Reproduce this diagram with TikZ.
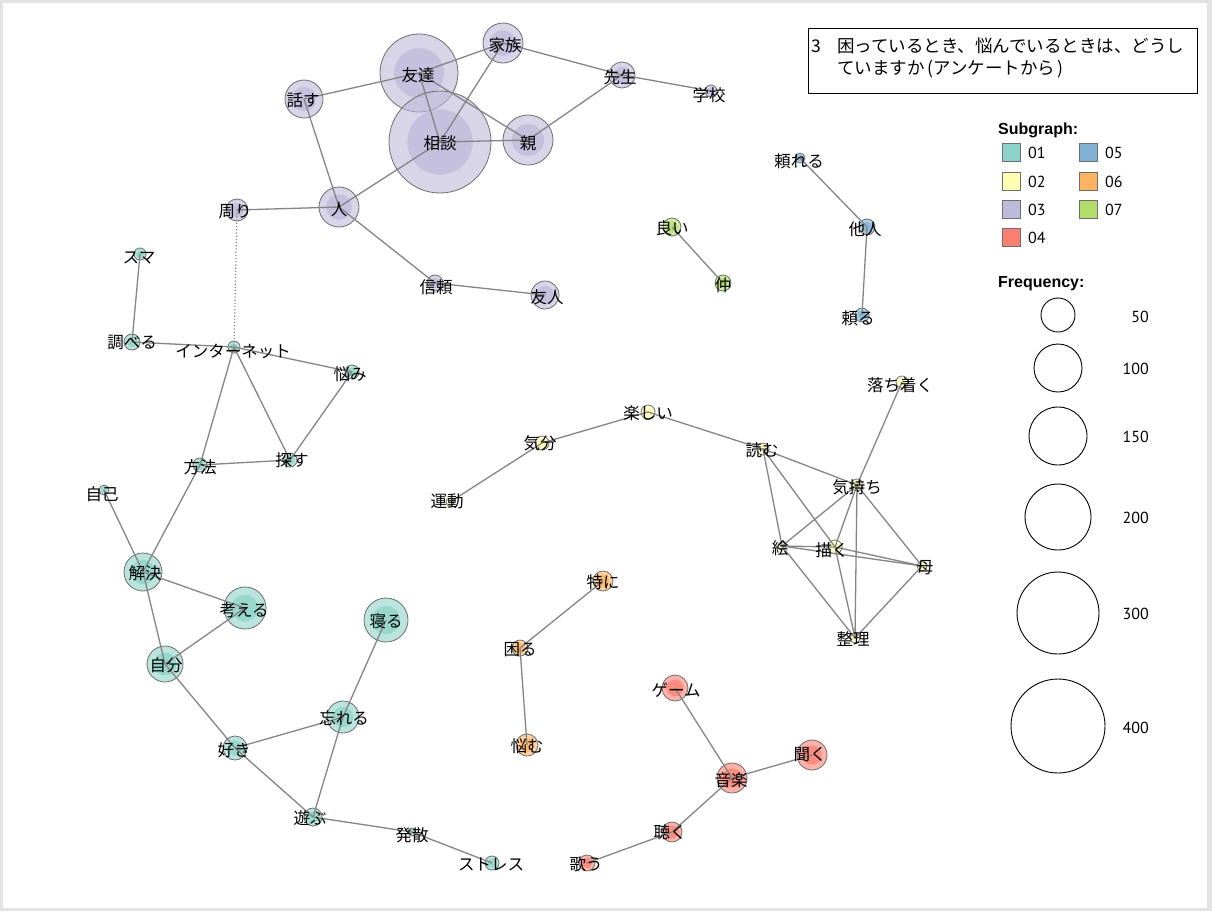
\documentclass[tikz,border=0pt]{standalone}
\usepackage{fontspec}
\setmainfont{Noto Sans CJK JP}
\newfontfamily\legfont{Liberation Sans}
\newfontfamily\numfont{PT Sans}
\definecolor{c01}{HTML}{8DD3C7}
\definecolor{c02}{HTML}{FFFFB3}
\definecolor{c03}{HTML}{BEBADA}
\definecolor{c04}{HTML}{FB8072}
\definecolor{c05}{HTML}{80B1D3}
\definecolor{c06}{HTML}{FDB462}
\definecolor{c07}{HTML}{B3DE69}
\definecolor{edgegray}{HTML}{858585}
\definecolor{ringgray}{HTML}{6E6E6E}
\tikzset{
  wcirc/.style={circle, draw=ringgray, line width=0.8pt, inner sep=0pt},
  edge/.style={draw=edgegray, line width=1.3pt},
  dotedge/.style={draw=edgegray, line width=1.2pt, dotted},
  lab/.style={font=\fontsize{16.5}{18}\selectfont, inner sep=0pt, text=black},
  sqbox/.style={draw=ringgray, line width=0.9pt, minimum size=18pt, inner sep=0pt},
  legn/.style={font=\numfont\fontsize{16}{18}\selectfont, inner sep=0pt},
  legb/.style={font=\legfont\bfseries\fontsize{16}{18}\selectfont, inner sep=0pt},
  freqc/.style={circle, draw=black, line width=0.9pt, inner sep=0pt},
  titletext/.style={font=\fontsize{17.5}{20}\selectfont, inner sep=0pt, anchor=base west}
}
\newcommand\wn[4]{%
  \node[wcirc, minimum size={2*#3pt}, fill=#4, fill opacity=0.6] (#1) at (#2) {};
  \fill[#4, fill opacity=0.75] (#1.center) circle ({0.64*#3pt});
}
\begin{document}
\begin{tikzpicture}[x=1pt, y=-1pt]
\useasboundingbox (0,0) rectangle (1212,911);
\fill[gray!22] (0,0) rectangle (1212,911);
\fill[white] (2.5,3) rectangle (1206.5,908);

% ---- circles (03 purple)
\wn{tomodachi}{419,73}{39}{c03}
\wn{sodan}{440,142}{51}{c03}
\wn{kazoku}{503,43}{20}{c03}
\wn{hanasu}{304,99}{19}{c03}
\wn{oya}{528,140}{25}{c03}
\wn{sensei}{622,75}{13}{c03}
\wn{gakko}{711,91}{6}{c03}
\wn{hito}{339,207}{20}{c03}
\wn{mawari}{237,210}{11}{c03}
\wn{shinrai}{435,283}{8}{c03}
\wn{yujin}{545,295}{14}{c03}
% 05 blue
\wn{tayoreru}{800,158}{5}{c05}
\wn{tanin}{867,227}{8}{c05}
\wn{tayoru}{862,315}{7}{c05}
% 07 green
\wn{yoi}{672,227}{9}{c07}
\wn{naka}{723,283}{8}{c07}
% 01 teal
\wn{suma}{140,254}{6}{c01}
\wn{shiraberu}{132,342}{8}{c01}
\wn{internet}{234,347}{6}{c01}
\wn{nayami}{352,372}{7}{c01}
\wn{hoho}{200,465}{7}{c01}
\wn{sagasu}{290,460}{7}{c01}
\wn{jiko}{104,490}{5}{c01}
\wn{kaiketsu}{143,572}{19}{c01}
\wn{kangaeru}{245,608}{21}{c01}
\wn{jibun}{165,664}{18}{c01}
\wn{neru}{386,620}{22}{c01}
\wn{wasureru}{343,717}{16}{c01}
\wn{suki}{235,748}{12}{c01}
\wn{asobu}{313,817}{9}{c01}
\wn{hassan}{412,832}{4}{c01}
\wn{stress}{492,863}{7}{c01}
% 02 yellow
\wn{undo}{450,502}{4}{c02}
\wn{kibun}{542,443}{7}{c02}
\wn{tanoshii}{648,412}{7}{c02}
\wn{yomu}{763,449}{6}{c02}
\wn{kimochi}{857,485}{6}{c02}
\wn{ochitsuku}{902,382}{6}{c02}
\wn{e}{782,546}{4}{c02}
\wn{kaku}{835,547}{7}{c02}
\wn{haha}{922,566}{5}{c02}
\wn{seiri}{855,638}{5}{c02}
% 06 orange
\wn{tokuni}{603,581}{10}{c06}
\wn{komaru}{520,648}{8}{c06}
\wn{nayamu}{527,745}{11}{c06}
% 04 red
\wn{game}{675,688}{13}{c04}
\wn{ongaku}{732,778}{15}{c04}
\wn{kiku}{812,755}{15}{c04}
\wn{kiku2}{672,832}{10}{c04}
\wn{utau}{587,863}{8}{c04}

% ---- edges
\draw[edge] (hanasu.center) -- (tomodachi.center);
\draw[edge] (tomodachi.center) -- (kazoku.center);
\draw[edge] (kazoku.center) -- (sodan.center);
\draw[edge] (tomodachi.center) -- (sodan.center);
\draw[edge] (tomodachi.center) -- (oya.center);
\draw[edge] (sodan.center) -- (oya.center);
\draw[edge] (kazoku.center) -- (sensei.center);
\draw[edge] (sensei.center) -- (gakko.center);
\draw[edge] (sensei.center) -- (oya.center);
\draw[edge] (hanasu.center) -- (hito.center);
\draw[edge] (hito.center) -- (sodan.center);
\draw[edge] (hito.center) -- (mawari.center);
\draw[edge] (hito.center) -- (shinrai.center);
\draw[edge] (shinrai.center) -- (yujin.center);
\draw[dotedge] (mawari.center) -- (internet.center);
\draw[edge] (tayoreru.center) -- (tanin.center);
\draw[edge] (tanin.center) -- (tayoru.center);
\draw[edge] (yoi.center) -- (naka.center);
\draw[edge] (suma.center) -- (shiraberu.center);
\draw[edge] (shiraberu.center) -- (internet.center);
\draw[edge] (internet.center) -- (nayami.center);
\draw[edge] (internet.center) -- (hoho.center);
\draw[edge] (internet.center) -- (sagasu.center);
\draw[edge] (nayami.center) -- (sagasu.center);
\draw[edge] (hoho.center) -- (sagasu.center);
\draw[edge] (hoho.center) -- (kaiketsu.center);
\draw[edge] (jiko.center) -- (kaiketsu.center);
\draw[edge] (kaiketsu.center) -- (kangaeru.center);
\draw[edge] (kaiketsu.center) -- (jibun.center);
\draw[edge] (jibun.center) -- (kangaeru.center);
\draw[edge] (jibun.center) -- (suki.center);
\draw[edge] (suki.center) -- (wasureru.center);
\draw[edge] (suki.center) -- (asobu.center);
\draw[edge] (wasureru.center) -- (asobu.center);
\draw[edge] (wasureru.center) -- (neru.center);
\draw[edge] (asobu.center) -- (hassan.center);
\draw[edge] (hassan.center) -- (stress.center);
\draw[edge] (undo.center) -- (kibun.center);
\draw[edge] (kibun.center) -- (tanoshii.center);
\draw[edge] (tanoshii.center) -- (yomu.center);
\draw[edge] (yomu.center) -- (kimochi.center);
\draw[edge] (yomu.center) -- (e.center);
\draw[edge] (yomu.center) -- (kaku.center);
\draw[edge] (kimochi.center) -- (ochitsuku.center);
\draw[edge] (kimochi.center) -- (e.center);
\draw[edge] (kimochi.center) -- (kaku.center);
\draw[edge] (kimochi.center) -- (seiri.center);
\draw[edge] (kimochi.center) -- (haha.center);
\draw[edge] (e.center) -- (kaku.center);
\draw[edge] (e.center) -- (haha.center);
\draw[edge] (e.center) -- (seiri.center);
\draw[edge] (kaku.center) -- (haha.center);
\draw[edge] (kaku.center) -- (seiri.center);
\draw[edge] (haha.center) -- (seiri.center);
\draw[edge] (tokuni.center) -- (komaru.center);
\draw[edge] (komaru.center) -- (nayamu.center);
\draw[edge] (game.center) -- (ongaku.center);
\draw[edge] (ongaku.center) -- (kiku.center);
\draw[edge] (ongaku.center) -- (kiku2.center);
\draw[edge] (kiku2.center) -- (utau.center);

% ---- labels
\node[lab] (tomodachi-l) at (418,75) {友達};
\node[lab] (sodan-l) at (440,143) {相談};
\node[lab] (kazoku-l) at (505,45) {家族};
\node[lab] (hanasu-l) at (303,100) {話す};
\node[lab] (oya-l) at (528,143) {親};
\node[lab] (sensei-l) at (620,77) {先生};
\node[lab] (gakko-l) at (709,95) {学校};
\node[lab] (hito-l) at (339,209) {人};
\node[lab] (mawari-l) at (235,212) {周り};
\node[lab] (shinrai-l) at (436,287) {信頼};
\node[lab] (yujin-l) at (547,297) {友人};
\node[lab] (tayoreru-l) at (799,161) {頼れる};
\node[lab] (tanin-l) at (865,229) {他人};
\node[lab] (tayoru-l) at (858,318) {頼る};
\node[lab] (yoi-l) at (672,228) {良い};
\node[lab] (naka-l) at (723,285) {仲};
\node[lab] (suma-l) at (139,258) {スマ};
\node[lab] (shiraberu-l) at (132,343) {調べる};
\node[lab] (internet-l) at (233,351) {インターネット};
\node[lab] (nayami-l) at (350,374) {悩み};
\node[lab] (hoho-l) at (200,467) {方法};
\node[lab] (sagasu-l) at (292,460) {探す};
\node[lab] (jiko-l) at (102,494) {自己};
\node[lab] (kaiketsu-l) at (145,573) {解決};
\node[lab] (kangaeru-l) at (244,610) {考える};
\node[lab] (jibun-l) at (166,665) {自分};
\node[lab] (neru-l) at (386,621) {寝る};
\node[lab] (wasureru-l) at (344,718) {忘れる};
\node[lab] (suki-l) at (234,750) {好き};
\node[lab] (asobu-l) at (310,818) {遊ぶ};
\node[lab] (hassan-l) at (412,835) {発散};
\node[lab] (stress-l) at (491,864) {ストレス};
\node[lab] (undo-l) at (447,501) {運動};
\node[lab] (kibun-l) at (540,443) {気分};
\node[lab] (tanoshii-l) at (648,413) {楽しい};
\node[lab] (yomu-l) at (762,450) {読む};
\node[lab] (kimochi-l) at (857,487) {気持ち};
\node[lab] (ochitsuku-l) at (900,385) {落ち着く};
\node[lab] (e-l) at (780,548) {絵};
\node[lab] (kaku-l) at (832,550) {描く};
\node[lab] (haha-l) at (925,568) {母};
\node[lab] (seiri-l) at (853,639) {整理};
\node[lab] (tokuni-l) at (603,582) {特に};
\node[lab] (komaru-l) at (520,650) {困る};
\node[lab] (nayamu-l) at (527,746) {悩む};
\node[lab] (game-l) at (676,690) {ゲーム};
\node[lab] (kiku-l) at (810,755) {聞く};
\node[lab] (ongaku-l) at (731,780) {音楽};
\node[lab] (kiku2-l) at (670,832) {聴く};
\node[lab] (utau-l) at (586,864) {歌う};

% ---- title box
\node[draw=black, line width=1.2pt, minimum width=389pt, minimum height=65pt, inner sep=0pt, anchor=north west] (titlebox) at (808,28) {};
\node[titletext] (t0) at (811,52) {3};
\node[titletext] (t1) at (837,52) {困っているとき、悩んでいるときは、どうし};
\node[titletext] (t2) at (837,74) {ていますか\kern3pt(アンケートから\kern2pt)};

% ---- legend: subgraph
\node[legb, anchor=base west] (subg) at (998,134) {Subgraph:};
\node[sqbox, fill=c01] (sq01) at (1011,152.5) {};
\node[sqbox, fill=c02] (sq02) at (1011,181) {};
\node[sqbox, fill=c03] (sq03) at (1011,209) {};
\node[sqbox, fill=c04] (sq04) at (1011,237.5) {};
\node[sqbox, fill=c05] (sq05) at (1088,152.5) {};
\node[sqbox, fill=c06] (sq06) at (1088,181) {};
\node[sqbox, fill=c07] (sq07) at (1088,209) {};
\node[legn, anchor=west] (n01) at (1028,153) {01};
\node[legn, anchor=west] (n02) at (1028,181.5) {02};
\node[legn, anchor=west] (n03) at (1028,209.5) {03};
\node[legn, anchor=west] (n04) at (1028,238) {04};
\node[legn, anchor=west] (n05) at (1105,153) {05};
\node[legn, anchor=west] (n06) at (1105,181.5) {06};
\node[legn, anchor=west] (n07) at (1105,209.5) {07};

% ---- legend: frequency
\node[legb, anchor=base west] (freq) at (998,287) {Frequency:};
\node[freqc, minimum size=34pt] (f50) at (1058,315) {};
\node[freqc, minimum size=48pt] (f100) at (1058,368) {};
\node[freqc, minimum size=58pt] (f150) at (1058,436) {};
\node[freqc, minimum size=66pt] (f200) at (1058,517) {};
\node[freqc, minimum size=82pt] (f300) at (1058,613) {};
\node[freqc, minimum size=94pt] (f400) at (1058,726) {};
\node[legn, anchor=east] (v50) at (1149,317) {50};
\node[legn, anchor=east] (v100) at (1149,369) {100};
\node[legn, anchor=east] (v150) at (1149,437) {150};
\node[legn, anchor=east] (v200) at (1149,518) {200};
\node[legn, anchor=east] (v300) at (1149,614) {300};
\node[legn, anchor=east] (v400) at (1149,728) {400};
\end{tikzpicture}
\end{document}
